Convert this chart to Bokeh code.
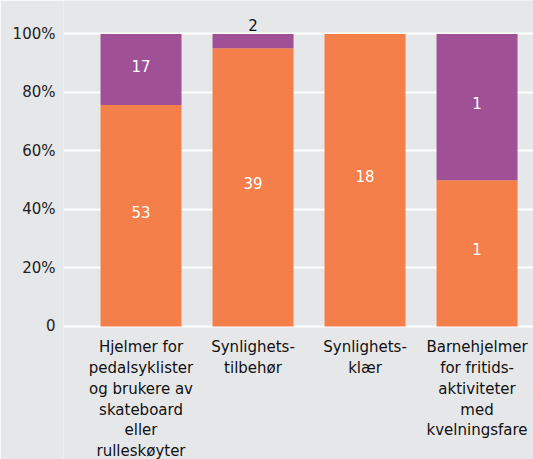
from bokeh.plotting import figure
from bokeh.models import ColumnDataSource, FixedTicker
from bokeh.core.properties import value
from bokeh.embed import file_html
from bokeh.resources import INLINE

categories = [
    "Hjelmer for\npedalsyklister\nog brukere av\nskateboard\neller\nrulleskøyter",
    "Synlighets-\ntilbehør",
    "Synlighets-\nklær",
    "Barnehjelmer\nfor fritids-\naktiviteter\nmed\nkvelningsfare",
]
orange_counts = [53, 39, 18, 1]
purple_counts = [17, 2, 0, 1]
y_ticks = [0, 20, 40, 60, 80, 100]
y_tick_labels = ["0", "20%", "40%", "60%", "80%", "100%"]

ORANGE = "#F47F4A"
PURPLE = "#A05195"
BG = "#E6E7E9"
FONT = "DejaVu Sans"

xs = list(range(len(categories)))
totals = [o + p for o, p in zip(orange_counts, purple_counts)]
o_pct = [100.0 * o / t for o, t in zip(orange_counts, totals)]
p_pct = [100.0 * p / t for p, t in zip(purple_counts, totals)]

p = figure(width=533, height=459, output_backend="svg", toolbar_location=None,
           x_range=(-0.692, 3.504), y_range=(-45.47, 111.45),
           min_border_left=63, min_border_right=0, min_border_top=0, min_border_bottom=0)
p.background_fill_color = BG
p.border_fill_color = BG
p.outline_line_color = None

p.xaxis.visible = False
p.xgrid.visible = False
p.yaxis.ticker = FixedTicker(ticks=y_ticks)
p.yaxis.major_label_overrides = {t: l for t, l in zip(y_ticks, y_tick_labels)}
p.yaxis.axis_line_color = None
p.yaxis.major_tick_line_color = None
p.yaxis.minor_tick_line_color = None
p.yaxis.major_tick_out = 0
p.yaxis.major_tick_in = 0
p.yaxis.major_label_standoff = 8
p.yaxis.major_label_text_font = FONT
p.yaxis.major_label_text_font_size = "15px"
p.yaxis.major_label_text_color = "#222222"
p.ygrid.ticker = FixedTicker(ticks=y_ticks)
p.ygrid.grid_line_color = "white"
p.ygrid.grid_line_width = 2

src = ColumnDataSource(dict(x=xs, o=o_pct, top=[a + b for a, b in zip(o_pct, p_pct)]))
p.vbar(x="x", bottom=0, top="o", width=0.723, source=src, fill_color=ORANGE, line_color=None)
p.vbar(x="x", bottom="o", top="top", width=0.723, source=src, fill_color=PURPLE, line_color=None)

# value labels
in_x, in_y, in_t = [], [], []
out_x, out_y, out_t = [], [], []
for i in xs:
    if orange_counts[i] > 0:
        in_x.append(i); in_y.append(o_pct[i] / 2); in_t.append(str(orange_counts[i]))
    if purple_counts[i] > 0:
        if p_pct[i] >= 8:
            in_x.append(i); in_y.append(o_pct[i] + p_pct[i] / 2); in_t.append(str(purple_counts[i]))
        else:
            out_x.append(i); out_y.append(o_pct[i] + p_pct[i]); out_t.append(str(purple_counts[i]))

p.text(x=in_x, y=in_y, text=in_t, text_align="center", text_baseline="middle",
       y_offset=-4, text_color="white", text_font=value(FONT), text_font_size="15px")
p.text(x=out_x, y=out_y, text=out_t, text_align="center", text_baseline="bottom",
       y_offset=-3, text_color="#111111", text_font=value(FONT), text_font_size="15px")

# category labels
p.text(x=xs, y=[0] * len(xs), text=categories, text_align="center", text_baseline="top",
       y_offset=12, text_color="#111111", text_font=value(FONT), text_font_size="15px",
       text_line_height=1.15)

open("out.html", "w").write(file_html(p, INLINE))
